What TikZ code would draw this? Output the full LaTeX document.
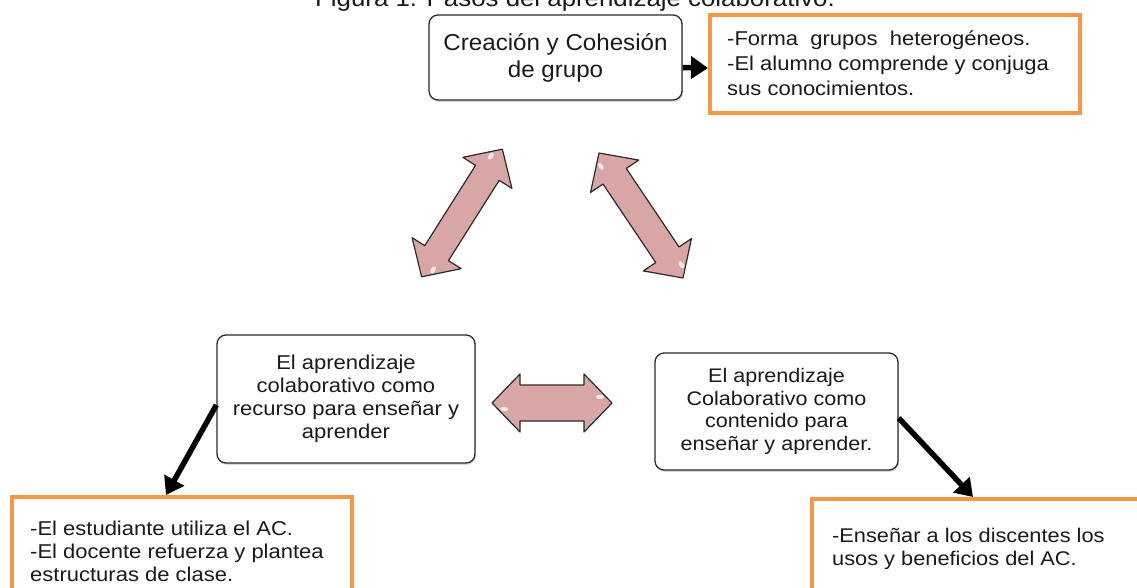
\documentclass[tikz,border=0pt]{standalone}
\usepackage{fontspec}
\setmainfont{Liberation Sans}
\newfontfamily\fA[FakeStretch=1.05]{Liberation Sans}
\newfontfamily\fB[FakeStretch=1.1]{Liberation Sans}
\usetikzlibrary{arrows.meta,shadows,calc}
\definecolor{orng}{HTML}{F79646}
\definecolor{rose}{HTML}{D9A6A6}
\definecolor{txt}{HTML}{1A1A1A}
\definecolor{edgec}{HTML}{2B2B2B}
\tikzset{
  rbox/.style={draw=edgec, line width=1.3pt, rounded corners=9pt, fill=white,
    align=center, text=txt, inner sep=0pt,
    drop shadow={shadow xshift=1.2pt, shadow yshift=-1.8pt, opacity=0.3}},
  obox/.style={draw=orng, line width=4pt, inner sep=0pt},
  otext/.style={anchor=west, align=left, inner sep=0pt, text=txt},
  blk/.style={draw=black, line width=5.5pt, -{Triangle[length=17pt,width=22pt]}},
  pinkarr/.style={fill=rose, draw=edgec, line width=1.2pt, line join=round},
  hilite/.style={fill=white, opacity=0.75},
}
% cx, cy, angle, half-length, shaft half-width, head half-width, head length
\newcommand\dblarr[7]{%
  \begin{scope}[shift={(#1,#2)},rotate=#3]
    \draw[pinkarr] (-#4,0) -- ({-#4+#7},{-#6}) -- ({-#4+#7},{-#5}) -- ({#4-#7},{-#5})
      -- ({#4-#7},{-#6}) -- (#4,0) -- ({#4-#7},{#6}) -- ({#4-#7},{#5})
      -- ({-#4+#7},{#5}) -- ({-#4+#7},{#6}) -- cycle;
    \fill[hilite] ({#4-12},{-6}) ellipse (4 and 2.2);
    \fill[hilite] ({-#4+12},{6}) ellipse (4 and 2.2);
  \end{scope}}
\begin{document}
\begin{tikzpicture}[x=1pt,y=-1pt]
  \useasboundingbox (0,0) rectangle (1137,588);
  \clip (0,0) rectangle (1137,588);
  \fill[white] (0,0) rectangle (1137,588);

  % title (cut at top)
  \node[anchor=base, inner sep=0pt, text=txt, font={\fB\fontsize{23.5}{27}\selectfont}] (T) at (575,7)
    {Figura 1. Pasos del aprendizaje colaborativo.};

  % rounded boxes
  \node[rbox, minimum width=253pt, minimum height=85pt, font={\fA\fontsize{23}{27}\selectfont}] (A) at (555.5,57.5)
    {Creación y Cohesión\\de grupo};
  \node[rbox, minimum width=258pt, minimum height=128pt, font={\fB\fontsize{20}{23}\selectfont}] (B) at (346,399)
    {El aprendizaje\\colaborativo como\\recurso para enseñar y\\aprender};
  \node[rbox, minimum width=243pt, minimum height=117pt, font={\fB\fontsize{19.6}{22.5}\selectfont}] (C) at (776.5,411.5)
    {El aprendizaje\\Colaborativo como\\contenido para\\enseñar y aprender.};

  % orange boxes
  \node[obox, minimum width=370pt, minimum height=98pt] (O1) at (895,64) {};
  \node[otext, font={\fB\fontsize{20}{25}\selectfont}] (O1t) at (727,63)
    {-Forma\ \ grupos\ \ heterogéneos.\\-El alumno comprende y conjuga\\sus conocimientos.};
  \node[obox, minimum width=340pt, minimum height=123pt] (O2) at (182,558.5) {};
  \node[otext, font={\fB\fontsize{20}{23}\selectfont}] (O2t) at (30,551)
    {-El estudiante utiliza el AC.\\-El docente refuerza y plantea\\estructuras de clase.};
  \node[obox, minimum width=348pt, minimum height=121pt] (O3) at (986,559.5) {};
  \node[otext, font={\fB\fontsize{19.8}{23}\selectfont}] (O3t) at (832,549)
    {-Enseñar a los discentes los\\usos y beneficios del AC.};

  % black connectors
  \draw[blk] ([yshift=-10pt]A.east) -- ([yshift=-4pt]O1.west);
  \draw[blk] ([yshift=-6pt]B.west) -- ($(O2.north west)+(156,0)$);
  \draw[blk] ([yshift=-6.5pt]C.east) -- ($(O3.north west)+(163,0)$);

  % pink double arrows
  \dblarr{462}{213}{57.7}{75.5}{14}{29}{28}
  \dblarr{641}{215.5}{-56.1}{75.3}{14}{29}{28}
  \dblarr{552}{403}{0}{60}{18}{29}{28}
\end{tikzpicture}
\end{document}
